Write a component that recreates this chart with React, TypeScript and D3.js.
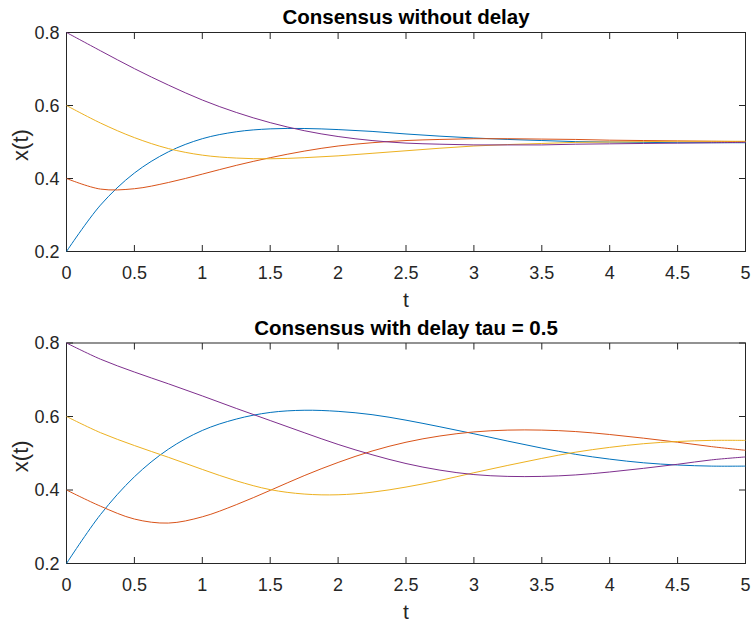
import React from 'react';
import * as d3 from 'd3';

// sample times (s)
const timePoints = [0, 0.25, 0.5, 0.75, 1, 1.25, 1.5, 1.75, 2, 2.25, 2.5, 2.75, 3, 3.25, 3.5, 3.75, 4, 4.25, 4.5, 4.75, 5];

// without delay
const freeAgent1 = [0.200, 0.327, 0.415, 0.473, 0.509, 0.528, 0.536, 0.537, 0.534, 0.529, 0.522, 0.516, 0.511, 0.507, 0.504, 0.501, 0.500, 0.499, 0.498, 0.498, 0.498];
const freeAgent2 = [0.400, 0.371, 0.372, 0.389, 0.412, 0.436, 0.457, 0.475, 0.489, 0.498, 0.504, 0.507, 0.509, 0.509, 0.508, 0.507, 0.505, 0.504, 0.503, 0.502, 0.501];
const freeAgent3 = [0.600, 0.552, 0.512, 0.482, 0.464, 0.456, 0.454, 0.457, 0.462, 0.469, 0.476, 0.483, 0.489, 0.493, 0.496, 0.499, 0.500, 0.501, 0.502, 0.502, 0.502];
const freeAgent4 = [0.800, 0.750, 0.701, 0.656, 0.615, 0.581, 0.553, 0.531, 0.515, 0.504, 0.497, 0.494, 0.492, 0.492, 0.492, 0.494, 0.495, 0.496, 0.497, 0.498, 0.499];

// with delay tau = 0.5
const delayAgent1 = [0.200, 0.333, 0.436, 0.511, 0.562, 0.593, 0.611, 0.617, 0.614, 0.605, 0.590, 0.572, 0.553, 0.533, 0.514, 0.497, 0.484, 0.474, 0.468, 0.465, 0.465];
const delayAgent2 = [0.400, 0.356, 0.321, 0.310, 0.327, 0.360, 0.399, 0.439, 0.475, 0.506, 0.530, 0.547, 0.558, 0.563, 0.563, 0.559, 0.551, 0.541, 0.530, 0.518, 0.508];
const delayAgent3 = [0.600, 0.556, 0.521, 0.489, 0.456, 0.425, 0.401, 0.389, 0.387, 0.394, 0.408, 0.426, 0.447, 0.467, 0.486, 0.503, 0.516, 0.526, 0.532, 0.535, 0.535];
const delayAgent4 = [0.800, 0.756, 0.721, 0.689, 0.656, 0.622, 0.589, 0.556, 0.524, 0.496, 0.472, 0.454, 0.442, 0.437, 0.437, 0.441, 0.449, 0.459, 0.470, 0.482, 0.490];

const tTicks = [0, 0.5, 1, 1.5, 2, 2.5, 3, 3.5, 4, 4.5, 5];
const xTicks = [0.2, 0.4, 0.6, 0.8];
const agentColors = ['#0072BD', '#D95319', '#EDB120', '#7E2F8E'];
const panelTitles = ['Consensus without delay', 'Consensus with delay tau = 0.5'];

const FONT = '"Liberation Sans", Arial, Helvetica, sans-serif';
const AXIS = '#262626';
const LEFT = 66.5;
const RIGHT = 745.5;
const TICK = 6.5;

interface PanelProps {
  top: number;
  bottom: number;
  title: string;
  series: number[][];
}

const Panel = ({ top, bottom, title, series }: PanelProps) => {
  const x = d3.scaleLinear().domain([0, 5]).range([LEFT, RIGHT]);
  const y = d3.scaleLinear().domain([0.2, 0.8]).range([bottom, top]);

  const line = d3.line<number>()
    .x((_, i) => x(timePoints[i]))
    .y(d => y(d))
    .curve(d3.curveCatmullRom);

  const midX = (LEFT + RIGHT) / 2;
  const midY = (top + bottom) / 2;

  return (
    <g>
      {/* axes box */}
      <rect x={LEFT} y={top} width={RIGHT - LEFT} height={bottom - top} fill="none" stroke={AXIS} strokeWidth={1} />

      {/* ticks on all four sides, pointing inward */}
      {tTicks.map(t => (
        <g key={'t' + t}>
          <line x1={x(t)} x2={x(t)} y1={bottom} y2={bottom - TICK} stroke={AXIS} />
          <line x1={x(t)} x2={x(t)} y1={top} y2={top + TICK} stroke={AXIS} />
          <text x={x(t)} y={bottom + 27} textAnchor="middle" fontSize={18} fill={AXIS}>{String(t)}</text>
        </g>
      ))}
      {xTicks.map(v => (
        <g key={'v' + v}>
          <line x1={LEFT} x2={LEFT + TICK} y1={y(v)} y2={y(v)} stroke={AXIS} />
          <line x1={RIGHT} x2={RIGHT - TICK} y1={y(v)} y2={y(v)} stroke={AXIS} />
          <text x={59.5} y={y(v)} textAnchor="end" dominantBaseline="central" fontSize={18} fill={AXIS}>{String(v)}</text>
        </g>
      ))}

      {series.map((s, i) => (
        <path key={i} d={line(s) ?? ''} fill="none" stroke={agentColors[i]} strokeWidth={1} />
      ))}

      <text x={midX} y={top - 8.5} textAnchor="middle" fontSize={20.5} fontWeight="bold" fill="#000">{title}</text>
      <text x={midX} y={bottom + 55} textAnchor="middle" fontSize={21} fill={AXIS}>t</text>
      <text transform={`translate(20,${midY + 3}) rotate(-90)`} textAnchor="middle" dominantBaseline="central" fontSize={22} fill={AXIS}>x(t)</text>
    </g>
  );
};

export default function App() {
  return (
    <svg
      width={752}
      height={624}
      style={{ position: 'absolute', left: 0, top: 0, background: '#fff' }}
      fontFamily={FONT}
    >
      <rect width={752} height={624} fill="#fff" />
      <Panel top={32.5} bottom={251.5} title={panelTitles[0]} series={[freeAgent1, freeAgent2, freeAgent3, freeAgent4]} />
      <Panel top={343} bottom={563.5} title={panelTitles[1]} series={[delayAgent1, delayAgent2, delayAgent3, delayAgent4]} />
    </svg>
  );
}
